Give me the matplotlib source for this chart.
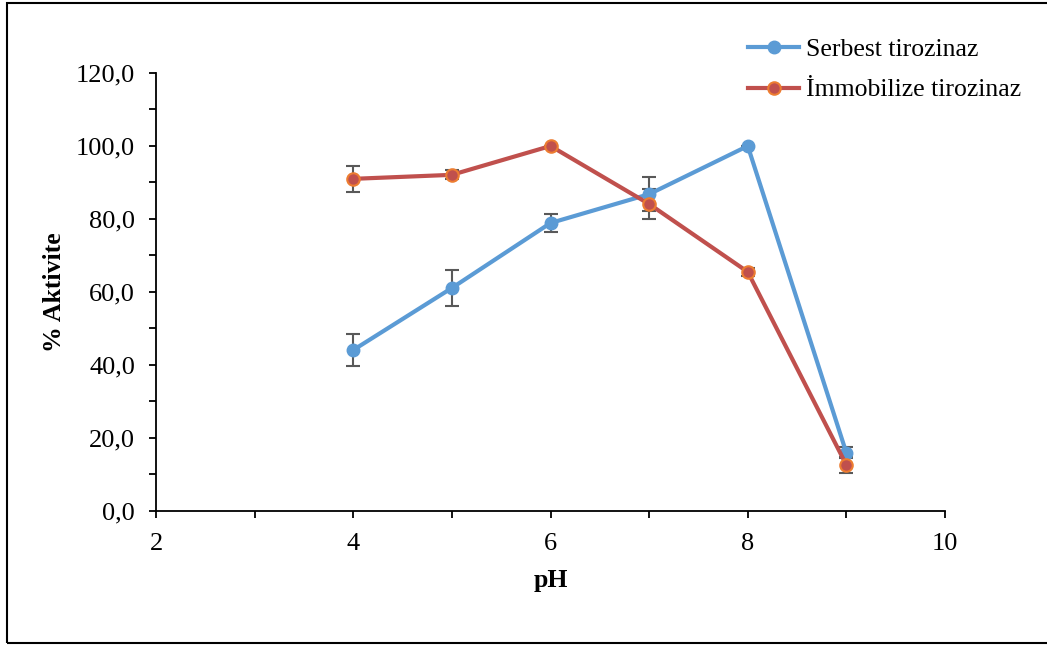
import matplotlib.pyplot as plt
from matplotlib.patches import Rectangle
from matplotlib.ticker import MultipleLocator, FuncFormatter

plt.rcParams['font.family'] = ['Liberation Serif', 'DejaVu Serif']

# data
ph = [4, 5, 6, 7, 8, 9]
serbest = [44.1, 61.1, 78.9, 86.8, 100.0, 15.9]
serbest_err = [4.3, 5.0, 2.5, 4.6, 0.0, 1.5]
immob = [91.0, 92.1, 100.0, 84.1, 65.5, 12.6]
immob_err = [3.6, 1.2, 0.0, 4.0, 1.0, 2.2]

fig = plt.figure(figsize=(10.47, 6.46), dpi=100)
ax = fig.add_axes([0.149, 0.209, 0.7536, 0.678])

# outer frame round the whole chart
fig.patches.append(Rectangle((7 / 1047, 3 / 646), 1.1, 640 / 646, transform=fig.transFigure,
                             fill=False, edgecolor='black', linewidth=1.5))

ax.errorbar(ph, serbest, yerr=serbest_err, color='#5B9BD5', lw=3, marker='o', ms=9,
            ecolor='#595959', elinewidth=1.5, capsize=5, capthick=1.5,
            label='Serbest tirozinaz', zorder=3)
ax.errorbar(ph, immob, yerr=immob_err, color='#C0504D', lw=3, marker='o', ms=9,
            mfc='#C0504D', mec='#ED7D31', mew=1.5,
            ecolor='#595959', elinewidth=1.5, capsize=5, capthick=1.5,
            label='İmmobilize tirozinaz', zorder=3)

ax.set_xlim(2, 10)
ax.set_ylim(0, 120)
ax.xaxis.set_major_locator(MultipleLocator(2))
ax.xaxis.set_minor_locator(MultipleLocator(1))
ax.yaxis.set_major_locator(MultipleLocator(20))
ax.yaxis.set_minor_locator(MultipleLocator(10))
ax.yaxis.set_major_formatter(FuncFormatter(lambda v, p: f'{v:.1f}'.replace('.', ',')))

for side in ['top', 'right']:
    ax.spines[side].set_visible(False)
for side in ['left', 'bottom']:
    ax.spines[side].set_linewidth(1.3)

ax.tick_params(which='both', direction='out', width=1.3, labelsize=19, length=5)
ax.tick_params(axis='y', pad=10)
ax.tick_params(axis='x', pad=11)

ax.set_xlabel('pH', fontsize=18.5, fontweight='bold', labelpad=10)
ax.set_ylabel('% Aktivite', fontsize=18.5, fontweight='bold', labelpad=7)

handles, labels = ax.get_legend_handles_labels()
handles = [h[0] for h in handles]
ax.legend(handles, labels, loc='upper left', bbox_to_anchor=(0.721, 1.132), frameon=False,
          fontsize=18.5, handlelength=2.0, handletextpad=0.25, labelspacing=0.67)

fig.savefig('out.png', dpi=100)
